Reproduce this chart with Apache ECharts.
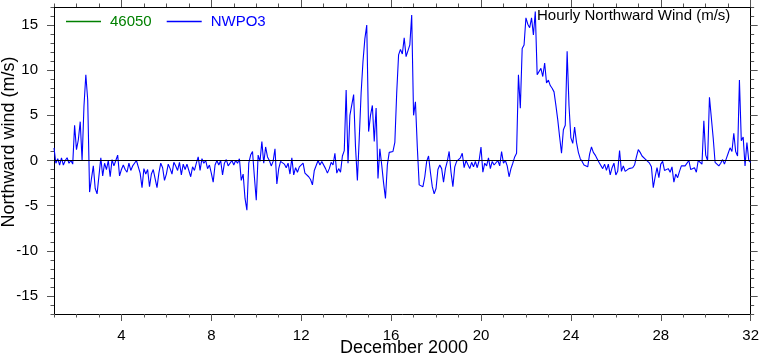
<!DOCTYPE html>
<html><head><meta charset="utf-8">
<script src="https://cdn.jsdelivr.net/npm/echarts@6/dist/echarts.min.js"></script>
<style>html,body{margin:0;padding:0;background:#fff}#c{width:762px;height:355px}</style>
</head><body><div id="c"></div>
<script>
// NWPO3 hourly northward wind (m/s), sampled every 2 hours, Dec 1 00h .. Dec 31 24h
const week1 = [ // Dec 1-7
  1.4, -0.3, 0.2, -0.5, 0.3, -0.5, 0.0, 0.3, -0.3, 0.0, -0.4, 3.9,
  1.2, 2.3, 4.3, 0.0, 6.0, 9.5, 6.7, -3.5, -2.0, -0.6, -3.1, -3.7,
  -1.7, 0.3, -1.7, -0.3, -1.0, 0.0, -1.8, 0.1, -0.6, 0.0, 0.6, -1.7,
  -1.0, -0.5, -1.0, -1.3, -0.3, -1.1, -0.6, -0.3, 0.0, 0.1, -1.4, -3.0,
  -0.9, -1.5, -1.0, -2.9, -1.5, -1.0, -2.0, -3.0, -1.4, -0.3, -0.8, -2.2,
  -1.5, -0.4, -0.9, -1.5, -0.2, -0.6, -1.1, -0.2, -1.6, -0.4, -1.0, -0.4,
  -0.3, -1.8, -0.7, -1.1, -0.3, 0.4, -1.1, 0.2, -0.3, 0.0, -0.9, -0.5
];
const week2 = [ // Dec 8-14
  -1.4, -2.4, -0.5, 0.0, -0.5, 0.0, -1.6, -0.3, 0.1, -0.6, -0.4, 0.0,
  -0.5, 0.0, -0.3, 0.2, -2.2, -1.5, -4.2, -5.5, -0.3, 0.6, 1.0, -1.8,
  -4.4, 0.6, -0.1, 2.1, -0.3, 1.5, 0.4, 0.0, -0.6, -0.1, 1.3, -2.6,
  -0.9, -0.1, 0.0, -0.4, -0.8, -0.3, -1.5, 0.3, -1.6, -0.8, -1.3, -0.7,
  -0.5, -0.3, -1.4, -1.6, -1.8, -2.1, -2.7, -1.1, -0.9, 0.0, -0.5, -0.1,
  -0.3, -0.9, -1.4, -0.9, -0.2, -0.5, 0.8, -1.4, -0.9, -1.3, 0.5, 1.1,
  7.8, -0.3, 5.0, 4.9, 7.3, 1.5, -2.2, 2.5, 7.5, 11.0, 13.5, 15.0
];
const week3 = [ // Dec 15-21
  3.2, 5.0, 6.1, 2.1, 5.8, -2.0, 1.3, -0.5, -2.5, -4.2, -0.5, 0.9,
  1.1, 1.0, 2.0, 7.5, 11.7, 12.3, 11.8, 13.6, 11.5, 11.3, 12.8, 16.1,
  5.0, 6.5, 1.5, -2.7, -2.5, -2.9, -1.8, -0.1, 0.5, -1.3, -2.9, -3.7,
  -3.1, -1.0, -0.5, -0.9, -2.4, -0.9, -0.1, 1.0, -1.3, -2.9, -0.7, -0.1,
  -0.3, 0.3, 0.8, -0.8, 0.0, -0.2, -0.9, -0.2, -0.7, -0.1, -0.8, 0.0,
  1.5, -1.3, -0.3, -0.6, 0.3, -0.9, -0.1, -0.5, -0.4, 0.0, -0.6, 1.0,
  -0.3, 0.0, -0.6, -1.8, -0.9, -0.3, 0.4, 0.8, 9.5, 5.8, 12.4, 12.8
];
const week4 = [ // Dec 22-28
  15.8, 15.1, 14.7, 15.8, 13.9, 16.5, 9.5, 9.4, 10.2, 9.3, 10.8, 8.6,
  8.9, 8.3, 8.0, 7.6, 6.1, 4.5, 2.6, 0.8, 3.4, 3.9, 12.1, 6.1,
  2.5, 1.9, 3.7, 2.0, 0.9, 0.2, -0.1, -0.5, -0.4, -0.7, 0.7, 1.5,
  0.9, 0.6, 0.2, -0.2, -0.1, -0.9, -0.4, -1.1, -0.4, -1.6, -0.8, -0.3,
  -1.6, -1.2, 1.1, -1.2, -0.6, -1.2, -1.3, -0.9, -1.0, -0.8, -0.5, 0.4,
  1.2, 0.9, 0.5, 0.3, 0.1, 0.2, -0.3, -0.7, -3.0, -1.8, -0.8, -1.9,
  -0.4, -0.1, -1.1, -1.3, -0.9, -1.3, -0.7, -2.4, -1.5, -1.9, -1.2, -0.6
];
const week5 = [ // Dec 29-31 and end
  -0.7, -0.6, -0.5, 0.0, -1.0, -0.9, -0.8, -1.3, 0.0, -0.2, -0.4, 4.4,
  0.6, 0.0, 7.0, 7.2, 2.5, -0.2, 0.0, -0.6, -0.3, 0.1, -0.4, 0.2,
  0.8, 1.4, 1.0, 3.0, 1.0, 0.5, 8.9, 2.2, 2.6, -0.6, 2.0, 0.0,
  -0.2
];
const buoy46050 = []; // no data in this period
const seriesNames = ['46050', 'NWPO3'];
const seriesColors = ['#008000', '#0000ff'];
const xMajorTicks = [4, 8, 12, 16, 20, 24, 28, 32];
const yMajorTicks = [-15, -10, -5, 0, 5, 10, 15];
const chartTitle = 'Hourly Northward Wind (m/s)';
const xTitle = 'December 2000';
const yTitle = 'Northward wind (m/s)';
const samplesPerDay = 12;

const values = [].concat(week1, week2, week3, week4, week5);
const nwpo3 = values.map((v, i) => [1 + i / samplesPerDay, v]);

const FONT = '"Liberation Sans", Arial, Helvetica, sans-serif';
const TICK = '#555';

function xAx(pos, major) {
  return {
    type: 'value', position: pos, min: 1, max: 32,
    interval: major ? undefined : 1,
    axisLine: { show: !major, onZero: false, lineStyle: { color: '#000', width: 1 } },
    axisTick: major ? { show: true, length: 7, customValues: xMajorTicks, lineStyle: { color: TICK } }
                    : { show: true, length: 3.5, lineStyle: { color: TICK } },
    axisLabel: (major && pos === 'bottom') ? { show: true, customValues: xMajorTicks, fontSize: 15, margin: 14, color: '#000', fontFamily: FONT } : { show: false },
    splitLine: { show: false }
  };
}
function yAx(pos, major) {
  return {
    type: 'value', position: pos, min: -17, max: 17,
    interval: major ? undefined : 1,
    axisLine: { show: !major, onZero: false, lineStyle: { color: '#000', width: 1 } },
    axisTick: major ? { show: true, length: 7, customValues: yMajorTicks, lineStyle: { color: TICK } }
                    : { show: true, length: 3.5, lineStyle: { color: TICK } },
    axisLabel: (major && pos === 'left') ? { show: true, customValues: yMajorTicks, fontSize: 15, margin: 16, color: '#000', fontFamily: FONT } : { show: false },
    splitLine: { show: false }
  };
}

const chart = echarts.init(document.getElementById('c'), null, { renderer: 'canvas' });
chart.setOption({
  animation: false,
  backgroundColor: '#fff',
  grid: { left: 54, right: 8, top: 7, bottom: 41, containLabel: false },
  title: { text: chartTitle, left: 537, top: 8, padding: 0, textStyle: { fontSize: 15, fontWeight: 'normal', color: '#000', fontFamily: FONT } },
  legend: {
    left: 66, top: 14, padding: 0, itemWidth: 35, itemHeight: 1.3, itemGap: 15, icon: 'rect',
    data: seriesNames.map((n, i) => ({
      name: n, icon: 'rect',
      itemStyle: { color: seriesColors[i], borderWidth: 0 },
      lineStyle: { color: seriesColors[i] },
      textStyle: { color: seriesColors[i] }
    })),
    textStyle: { fontSize: 15, fontFamily: FONT, padding: [0, 0, 0, 4] }
  },
  xAxis: [xAx('bottom', false), xAx('bottom', true), xAx('top', false), xAx('top', true)],
  yAxis: [yAx('left', false), yAx('left', true), yAx('right', false), yAx('right', true)],
  graphic: [
    { type: 'text', x: 9, y: 142, rotation: Math.PI / 2, style: { text: yTitle, fontSize: 18, fontFamily: FONT, fill: '#000', align: 'center', verticalAlign: 'middle' } },
    { type: 'text', x: 404, y: 348, style: { text: xTitle, fontSize: 18, fontFamily: FONT, fill: '#000', align: 'center', verticalAlign: 'middle' } }
  ],
  series: [
    { name: seriesNames[0], type: 'line', data: buoy46050, symbol: 'none', color: seriesColors[0], itemStyle: { color: seriesColors[0] }, lineStyle: { width: 1, color: seriesColors[0] } },
    {
      name: seriesNames[1], type: 'line', data: nwpo3, symbol: 'none', color: seriesColors[1], itemStyle: { color: seriesColors[1] },
      lineStyle: { width: 1.1, color: seriesColors[1] },
      markLine: { silent: true, symbol: 'none', label: { show: false }, lineStyle: { color: '#000', type: 'solid', width: 1.2 }, data: [{ yAxis: 0 }] }
    }
  ]
});
</script></body></html>
